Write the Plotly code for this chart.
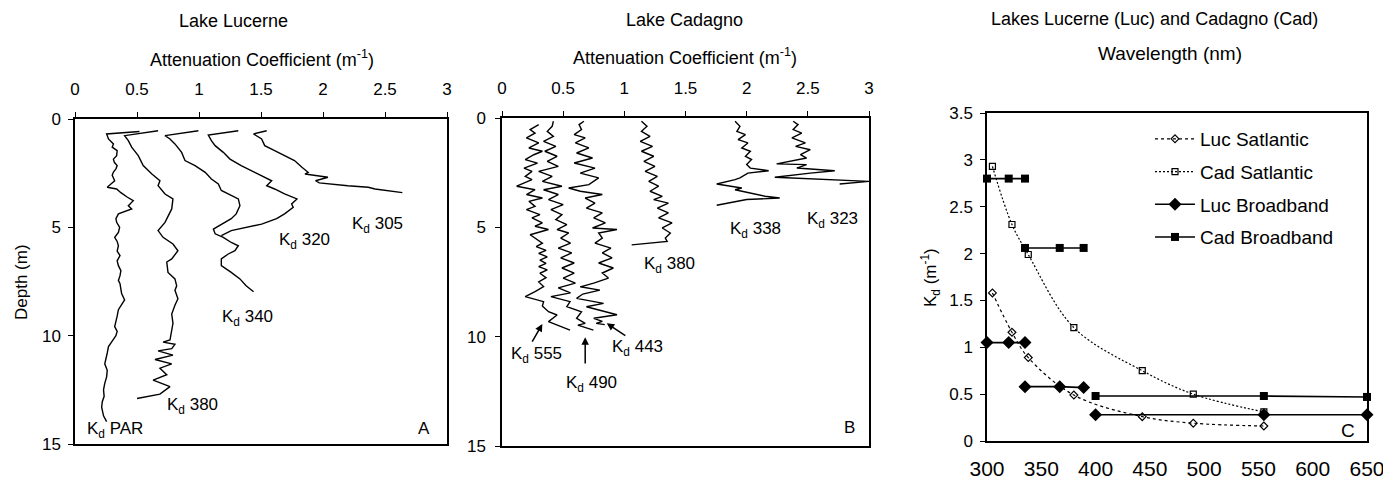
import plotly.graph_objects as go

# ---------------- Panel A: Lake Lucerne depth profiles (depth m, Kd m-1) ----------------
luc_par_depth = [0.58,0.69,0.92,1.15,1.3,1.46,1.69,1.85,2.0,2.15,2.3,2.45,2.6,2.85,3.0,3.15,3.23,3.4,3.6,3.77,
                 4.0,4.15,4.38,4.6,4.77,5.0,5.23,5.46,5.65,5.85,6.1,6.3,6.55,6.77,7.0,7.23,7.45,7.6,7.85,8.05,
                 8.35,8.6,8.8,9.1,9.35,9.58,9.8,10.0,10.25,10.5,10.8,11.05,11.3,11.6,11.9,12.2,12.5,12.8,13.05,13.3,
                 13.5,13.7,13.97]
luc_par_kd = [0.52,0.255,0.27,0.31,0.30,0.34,0.336,0.31,0.317,0.34,0.33,0.31,0.30,0.32,0.29,0.26,0.336,0.37,0.42,0.47,
              0.43,0.457,0.35,0.33,0.336,0.36,0.35,0.32,0.34,0.35,0.34,0.363,0.34,0.35,0.37,0.363,0.35,0.363,0.37,0.376,
              0.40,0.37,0.35,0.34,0.33,0.32,0.34,0.33,0.30,0.27,0.26,0.25,0.24,0.26,0.255,0.24,0.23,0.235,0.22,0.215,
              0.225,0.23,0.255]

luc_380_depth = [0.54,0.77,1.0,1.3,1.69,2.15,2.54,2.85,3.08,3.46,3.69,4.15,4.77,5.15,5.46,5.77,6.08,6.46,6.6,7.08,
                 7.38,7.7,7.9,8.3,8.6,9.0,9.43,9.8,10.2,10.3,10.4,10.6,10.7,10.9,11.1,11.3,11.5,11.8,12.05,12.35,
                 12.7,12.9]
luc_380_kd = [0.67,0.40,0.43,0.457,0.51,0.55,0.62,0.685,0.67,0.726,0.79,0.78,0.726,0.67,0.71,0.79,0.83,0.78,0.74,0.75,
              0.806,0.82,0.806,0.83,0.806,0.78,0.79,0.78,0.766,0.71,0.806,0.78,0.67,0.79,0.645,0.78,0.685,0.74,0.63,0.766,
              0.685,0.50]

luc_340_depth = [0.54,0.77,0.92,1.15,1.54,1.92,2.15,2.46,2.77,3.0,3.3,3.54,3.69,4.0,4.38,4.6,4.85,5.08,5.3,5.46,
                 5.7,5.85,6.08,6.23,6.46,6.77,7.08,7.38,7.7,7.97]
luc_340_kd = [0.995,0.726,0.766,0.806,0.86,0.887,0.968,1.05,1.10,1.156,1.18,1.26,1.317,1.33,1.30,1.26,1.18,1.116,1.13,1.196,
              1.26,1.317,1.29,1.236,1.18,1.18,1.26,1.33,1.38,1.44]

luc_320_depth = [0.54,0.74,1.0,1.23,1.54,1.85,2.15,2.46,2.69,2.85,3.08,3.23,3.46,3.69,3.92,4.08,4.38,4.6,4.85,5.0,5.15,5.38]
luc_320_kd = [1.317,1.075,1.10,1.13,1.196,1.25,1.34,1.45,1.53,1.586,1.546,1.61,1.69,1.79,1.747,1.76,1.69,1.626,1.505,1.37,1.26,1.18]

luc_305_depth = [0.54,0.69,0.92,1.23,1.46,1.69,1.92,2.23,2.46,2.54,2.62,2.69,2.85,2.95,3.08,3.15,3.23,3.4]
luc_305_kd = [1.546,1.44,1.505,1.53,1.61,1.69,1.77,1.83,1.88,1.855,1.96,2.04,1.94,1.97,2.20,2.365,2.42,2.64]

# ---------------- Panel B: Lake Cadagno depth profiles ----------------
cad_555_depth = [0.3,0.53,0.69,0.91,1.14,1.37,1.52,1.68,1.9,2.06,2.29,2.44,2.67,2.82,3.12,3.28,3.5,3.66,3.81,4.04,
                 4.19,4.42,4.57,4.8,4.95,5.1,5.34,5.49,5.72,5.88,6.05,6.19,6.35,6.5,6.65,6.8,6.95,7.1,7.3,7.5,
                 7.71,7.94,8.17,8.4,8.6,8.86,9.01,9.31,9.7]
cad_555_kd = [0.30,0.23,0.27,0.20,0.30,0.22,0.33,0.26,0.19,0.29,0.18,0.245,0.19,0.245,0.12,0.27,0.20,0.33,0.22,0.27,
              0.20,0.31,0.245,0.33,0.27,0.38,0.23,0.27,0.33,0.28,0.36,0.30,0.37,0.31,0.36,0.30,0.37,0.31,0.36,0.30,
              0.34,0.27,0.19,0.34,0.33,0.38,0.45,0.38,0.556]

cad_490_depth = [0.15,0.38,0.61,0.84,1.07,1.3,1.52,1.75,1.98,2.21,2.44,2.67,2.9,3.12,3.28,3.5,3.73,3.96,4.19,4.42,
                 4.65,4.88,5.1,5.26,5.49,5.72,5.95,6.17,6.4,6.63,6.86,7.09,7.32,7.55,7.77,8.0,8.17,8.4,8.63,8.86,
                 9.16,9.39,9.47,9.7]
cad_490_kd = [0.42,0.41,0.37,0.42,0.34,0.44,0.35,0.45,0.37,0.46,0.30,0.41,0.33,0.49,0.34,0.46,0.38,0.50,0.40,0.49,
              0.44,0.53,0.45,0.545,0.48,0.56,0.46,0.57,0.48,0.59,0.49,0.59,0.50,0.60,0.46,0.56,0.40,0.556,0.53,0.65,
              0.61,0.68,0.62,0.747]

cad_443_depth = [0.15,0.3,0.53,0.76,0.91,1.14,1.37,1.6,1.83,2.06,2.29,2.52,2.74,3.05,3.2,3.35,3.5,3.66,3.89,4.12,
                 4.34,4.57,4.8,5.03,5.1,5.26,5.49,5.72,5.95,6.17,6.4,6.63,6.86,7.09,7.32,7.55,7.72,7.87,8.05,8.25,
                 8.48,8.63,9.0,9.16,9.3,9.39,9.45]
cad_443_kd = [0.67,0.63,0.65,0.59,0.68,0.60,0.71,0.61,0.74,0.59,0.76,0.64,0.79,0.71,0.545,0.64,0.82,0.68,0.76,0.69,
              0.82,0.75,0.845,0.74,0.94,0.79,0.82,0.76,0.89,0.82,0.90,0.79,0.91,0.82,0.87,0.75,0.64,0.80,0.66,0.61,
              0.83,0.69,0.94,0.75,0.82,0.77,0.84]

cad_380_depth = [0.15,0.38,0.61,0.84,1.07,1.3,1.52,1.75,1.98,2.21,2.44,2.67,2.9,3.12,3.35,3.58,3.73,3.89,4.12,4.34,
                 4.57,4.8,5.03,5.26,5.49,5.64,5.8]
cad_380_kd = [1.14,1.185,1.14,1.21,1.13,1.23,1.14,1.24,1.16,1.25,1.17,1.27,1.20,1.28,1.21,1.31,1.24,1.36,1.27,1.36,
              1.28,1.39,1.31,1.376,1.335,1.35,1.06]

cad_338_depth = [0.15,0.38,0.61,0.76,0.99,1.14,1.37,1.52,1.75,1.9,2.13,2.29,2.41,2.52,2.74,2.82,3.02,3.12,3.2,3.28,
                 3.43,3.58,3.66,3.73,3.99]
cad_338_kd = [1.905,1.945,1.92,1.99,1.93,2.01,1.96,2.03,1.99,2.04,2.0,2.03,2.18,2.01,1.945,1.905,1.755,1.86,1.96,1.905,
              2.03,2.15,2.27,2.0,1.755]

cad_323_depth = [0.15,0.3,0.53,0.69,0.91,1.14,1.3,1.45,1.68,1.83,2.1,2.13,2.29,2.41,2.52,2.71,2.9,3.02]
cad_323_kd = [2.38,2.42,2.38,2.45,2.37,2.48,2.40,2.52,2.44,2.49,2.245,2.49,2.41,2.72,2.52,2.23,3.0,2.76]

# ---------------- Panel C: Kd vs wavelength ----------------
sat_wl = [305, 323, 338, 380, 443, 490, 555]
luc_sat_kd = [1.58, 1.16, 0.89, 0.49, 0.26, 0.19, 0.16]
cad_sat_kd = [2.93, 2.31, 1.99, 1.21, 0.75, 0.50, 0.31]

bb_wl_groups = [[300, 320, 335], [335, 367, 389], [400, 555, 650]]
luc_bb_kd_groups = [[1.05, 1.05, 1.05], [0.58, 0.58, 0.57], [0.28, 0.28, 0.28]]
cad_bb_kd_groups = [[2.80, 2.80, 2.80], [2.06, 2.06, 2.06], [0.48, 0.48, 0.47]]

depth_ticks = [0, 5, 10, 15]
atten_ticks = [0, 0.5, 1, 1.5, 2, 2.5, 3]
wl_ticks = [300, 350, 400, 450, 500, 550, 600, 650]
kd_ticks = [0, 0.5, 1, 1.5, 2, 2.5, 3, 3.5]

FONT = "Liberation Sans, Arial, Helvetica, sans-serif"
PAGE_OFFSET = 8          # default body margin of the html page
W, H = 1391 - PAGE_OFFSET, 482 - PAGE_OFFSET


def px(x):
    return (x - PAGE_OFFSET) / W


def py(y):
    return 1 - (y - PAGE_OFFSET) / H


def join_groups(groups):
    out = []
    for i, g in enumerate(groups):
        if i:
            out.append(None)
        out.extend(g)
    return out


fig = go.Figure()

profiles_a = [(luc_par_depth, luc_par_kd), (luc_380_depth, luc_380_kd), (luc_340_depth, luc_340_kd),
              (luc_320_depth, luc_320_kd), (luc_305_depth, luc_305_kd)]
profiles_b = [(cad_555_depth, cad_555_kd), (cad_490_depth, cad_490_kd), (cad_443_depth, cad_443_kd),
              (cad_380_depth, cad_380_kd), (cad_338_depth, cad_338_kd), (cad_323_depth, cad_323_kd)]

for d, k in profiles_a:
    fig.add_trace(go.Scatter(x=k, y=d, mode="lines", line=dict(color="black", width=1.4),
                             xaxis="x", yaxis="y", showlegend=False, hoverinfo="skip"))
for d, k in profiles_b:
    fig.add_trace(go.Scatter(x=k, y=d, mode="lines", line=dict(color="black", width=1.4),
                             xaxis="x2", yaxis="y2", showlegend=False, hoverinfo="skip"))

fig.add_trace(go.Scatter(x=sat_wl, y=luc_sat_kd, name="Luc Satlantic", mode="lines+markers",
                         line=dict(color="black", width=1.2, dash="3px,3px", shape="spline", smoothing=1),
                         marker=dict(symbol="diamond-open", size=6, color="black", line=dict(width=1.2)),
                         xaxis="x3", yaxis="y3", legendgroup="g1", cliponaxis=False))
fig.add_trace(go.Scatter(x=sat_wl, y=cad_sat_kd, name="Cad Satlantic", mode="lines+markers",
                         line=dict(color="black", width=1.2, dash="2px,2px", shape="spline", smoothing=1),
                         marker=dict(symbol="square-open", size=6, color="black", line=dict(width=1.2)),
                         xaxis="x3", yaxis="y3", legendgroup="g2", cliponaxis=False))
fig.add_trace(go.Scatter(x=join_groups(bb_wl_groups), y=join_groups(luc_bb_kd_groups), name="Luc Broadband",
                         mode="lines+markers", connectgaps=False,
                         line=dict(color="black", width=1.6),
                         marker=dict(symbol="diamond", size=10, color="black"),
                         xaxis="x3", yaxis="y3", legendgroup="g3", cliponaxis=False))
fig.add_trace(go.Scatter(x=join_groups(bb_wl_groups), y=join_groups(cad_bb_kd_groups), name="Cad Broadband",
                         mode="lines+markers", connectgaps=False,
                         line=dict(color="black", width=1.6),
                         marker=dict(symbol="square", size=8, color="black"),
                         xaxis="x3", yaxis="y3", legendgroup="g4", cliponaxis=False))

axis_common = dict(showline=True, linecolor="black", linewidth=1.5, mirror=True, showgrid=False,
                   zeroline=False, ticks="outside", ticklen=5, tickcolor="black", tickwidth=1.2,
                   automargin=False,
                   tickfont=dict(family=FONT, size=17, color="black"))

fig.update_layout(
    width=W, height=H, autosize=False,
    margin=dict(l=0, r=0, t=0, b=0, autoexpand=False),
    paper_bgcolor="white", plot_bgcolor="white",
    font=dict(family=FONT, size=17, color="black"),
    xaxis=dict(axis_common, domain=[px(75), px(447)], range=[0, 3], side="top", anchor="y",
               tickvals=atten_ticks, ticklabelstandoff=10),
    yaxis=dict(axis_common, domain=[py(444), py(119)], range=[15, 0], anchor="x",
               tickvals=depth_ticks, ticklabelstandoff=4),
    xaxis2=dict(axis_common, domain=[px(502), px(869)], range=[0, 3], side="top", anchor="y2",
                tickvals=atten_ticks, ticklabelstandoff=10),
    yaxis2=dict(axis_common, domain=[py(446), py(118)], range=[15, 0], anchor="x2",
                tickvals=depth_ticks, ticklabelstandoff=6),
    xaxis3=dict(axis_common, domain=[px(987), px(1367)], range=[300, 650], anchor="y3",
                tickvals=wl_ticks, ticklabelstandoff=8, ticks="",
                tickfont=dict(family=FONT, size=21, color="black")),
    yaxis3=dict(axis_common, domain=[py(441), py(113)], range=[0, 3.5], anchor="x3",
                tickvals=kd_ticks, ticklabelstandoff=4),
    legend=dict(x=px(1150), y=py(120), xanchor="left", yanchor="top",
                font=dict(family=FONT, size=19, color="black"), bgcolor="rgba(0,0,0,0)",
                traceorder="grouped", tracegroupgap=5, itemwidth=40),
)

ann = []


def text_paper(t, x, y, size=17, angle=0):
    ann.append(dict(text=t, x=px(x), y=py(y), xref="paper", yref="paper", showarrow=False,
                    xanchor="center", yanchor="middle", textangle=angle,
                    font=dict(family=FONT, size=size, color="black")))


text_paper("Lake Lucerne", 233, 21, size=18)
text_paper("Attenuation Coefficient (m<sup>-1</sup>)", 262, 58, size=18)
text_paper("Lake Cadagno", 684, 20, size=18)
text_paper("Attenuation Coefficient (m<sup>-1</sup>)", 685, 57, size=18)
text_paper("Lakes Lucerne (Luc) and Cadagno (Cad)", 1154, 19, size=18)
text_paper("Wavelength (nm)", 1170, 53, size=19)
text_paper("Depth (m)", 21, 282, angle=-90)
text_paper("K<sub>d</sub> (m<sup>-1</sup>)", 930, 278, angle=-90)
text_paper("A", 424, 428)
text_paper("B", 849, 427)
text_paper("C", 1348, 430, size=19)


def text_data(t, x, y, xr, yr):
    ann.append(dict(text=t, x=x, y=y, xref=xr, yref=yr, showarrow=False, xanchor="center",
                    yanchor="middle", font=dict(family=FONT, size=17, color="black")))


text_data("K<sub>d</sub> 305", 2.44, 4.9, "x", "y")
text_data("K<sub>d</sub> 320", 1.85, 5.63, "x", "y")
text_data("K<sub>d</sub> 340", 1.39, 9.2, "x", "y")
text_data("K<sub>d</sub> 380", 0.95, 13.25, "x", "y")
text_data("K<sub>d</sub> PAR", 0.32, 14.35, "x", "y")
text_data("K<sub>d</sub> 338", 2.07, 5.12, "x2", "y2")
text_data("K<sub>d</sub> 323", 2.70, 4.66, "x2", "y2")
text_data("K<sub>d</sub> 380", 1.37, 6.72, "x2", "y2")
text_data("K<sub>d</sub> 555", 0.28, 10.84, "x2", "y2")
text_data("K<sub>d</sub> 490", 0.73, 12.16, "x2", "y2")
text_data("K<sub>d</sub> 443", 1.11, 10.53, "x2", "y2")

# arrows (head at x,y ; tail at ax,ay) in panel B
for hx, hy, tx, ty in [(0.33, 9.42, 0.24, 10.3), (0.68, 10.03, 0.68, 11.3), (0.856, 9.39, 1.02, 10.0)]:
    ann.append(dict(text="", x=hx, y=hy, ax=tx, ay=ty, xref="x2", yref="y2", axref="x2", ayref="y2",
                    showarrow=True, arrowhead=2, arrowsize=1, arrowwidth=1.5, arrowcolor="black"))

fig.update_layout(annotations=ann)
fig.write_html("out.html")
